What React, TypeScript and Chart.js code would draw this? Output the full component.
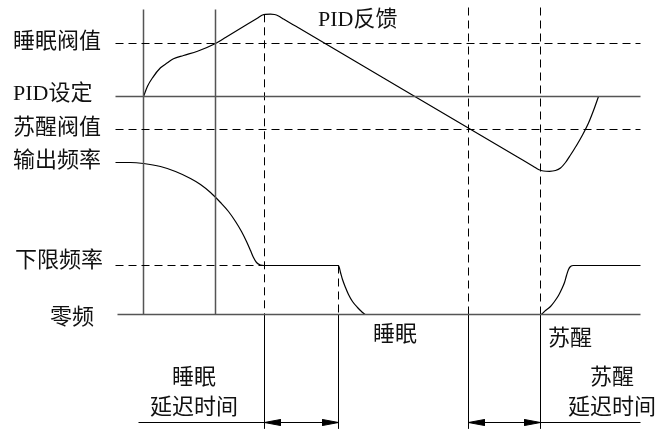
import React, { useEffect, useRef } from "react";
import { Chart, registerables } from "chart.js";

Chart.register(...registerables);

// ---- data (time on x, level on y; zero frequency = 0) ----
const levelNames = ["睡眠阀值", "PID设定", "苏醒阀值", "输出频率", "下限频率", "零频"];
const levelValues = [271, 218, 185, 152, 49, 0];

const feedbackTitle = "PID反馈";
const stateNames = ["睡眠", "苏醒"];
const delayNames = ["睡眠\n延迟时间", "苏醒\n延迟时间"];

// PID feedback curve
const feedbackX = [143, 147, 152, 160, 167, 173, 183, 197, 215, 225, 248, 258, 262, 265, 270, 274, 278, 283, 295, 520, 533, 538, 543, 549, 555, 560, 565, 570, 576, 582, 588, 593, 598];
const feedbackY = [218, 228.3, 236.7, 246.7, 251.7, 255.7, 259, 263.3, 271, 277, 291, 297, 299.5, 300.2, 300.4, 300, 298.5, 295.5, 288.4, 155.7, 148, 145, 143.5, 143.2, 144, 146.5, 152, 159.5, 169, 179.5, 191.5, 204, 218];

// output frequency curve
const outputX = [115, 130, 143, 160, 175, 190, 200, 210, 220, 228, 235, 241, 246, 250, 253, 256, 260, 264, 338, 340, 342, 345, 348, 352, 357, 361, 365, 540, 545, 550, 554, 558, 561, 564, 566, 568, 570, 573, 640];
const outputY = [152, 152, 151, 148, 143, 136, 130, 122, 112, 103, 93, 83, 73, 64, 57, 52, 49.5, 49, 49, 42, 35, 27, 20, 13, 7, 3, 0, 0, 4, 8, 13, 19, 25, 32, 39, 45, 48, 49, 49];

// event times
const markerTimes = [143, 215];
const sleepStart = 264;
const sleepEnd = 338;
const wakeStart = 468;
const wakeEnd = 540;

// diagram extents
const lineStart = 115;
const zeroStart = 117;
const lineEnd = 640;
const topLevel = 305;
const bottomLevel = -114;
const dimLevel = -108;
const delayUnderlineStarts = [138, 640];

const DASH = [8, 5];

function pts(xs: number[], ys: number[]) {
  return xs.map((x, i) => ({ x, y: ys[i] }));
}

function line(xs: number[], ys: number[], opts: any = {}) {
  return {
    data: pts(xs, ys),
    showLine: true,
    pointRadius: 0,
    borderColor: opts.color || "#000",
    borderWidth: opts.width || 1,
    borderDash: opts.dash || [],
    fill: false,
    tension: 0,
    cubicInterpolationMode: opts.smooth ? "monotone" : "default",
    clip: false,
  };
}

function arrow(tipX: number, dir: number) {
  const len = 16;
  const half = 3;
  const baseX = tipX + dir * len;
  return {
    data: pts([tipX, baseX, baseX, tipX], [dimLevel, dimLevel + half, dimLevel - half, dimLevel]),
    showLine: true,
    pointRadius: 0,
    borderColor: "#000",
    borderWidth: 1,
    backgroundColor: "#000",
    fill: "shape",
    tension: 0,
    clip: false,
  };
}

const FONT = '22px "Liberation Serif", "Noto Sans CJK SC", serif';

const textPlugin = {
  id: "diagramText",
  afterDatasetsDraw(chart: any) {
    const ctx = chart.ctx;
    const sy = chart.scales.y;
    ctx.save();
    ctx.fillStyle = "#111";
    ctx.font = FONT;
    ctx.textBaseline = "middle";
    ctx.textAlign = "left";
    const labelLeft = [13, 13, 13, 13, 15, 50];
    const labelDy = [-1.5, -2, -1, -1, -4, 4];
    levelNames.forEach((name, i) => {
      ctx.fillText(name, labelLeft[i], sy.getPixelForValue(levelValues[i]) + labelDy[i]);
    });
    ctx.fillText(feedbackTitle, 318, 20);
    ctx.fillText(stateNames[0], 373, 335);
    ctx.fillText(stateNames[1], 548, 339);
    ctx.textAlign = "center";
    const delayCx = [194, 612];
    delayNames.forEach((txt, i) => {
      const parts = txt.split("\n");
      ctx.fillText(parts[0], delayCx[i], 378);
      ctx.fillText(parts[1], delayCx[i], 408);
    });
    ctx.restore();
  },
};

export default function App() {
  const ref = useRef<HTMLCanvasElement | null>(null);

  useEffect(() => {
    document.body.style.margin = "0";
    const canvas = ref.current;
    if (!canvas) return;

    const [sleepLvl, pidLvl, wakeLvl, , lowLvl, zeroLvl] = levelValues;

    const datasets: any[] = [
      line([lineStart, lineEnd], [sleepLvl, sleepLvl], { dash: DASH }),
      line([lineStart, lineEnd], [pidLvl, pidLvl], { color: "#555", width: 1.5 }),
      line([lineStart, lineEnd], [wakeLvl, wakeLvl], { dash: DASH }),
      line([lineStart, sleepStart], [lowLvl, lowLvl], { dash: DASH }),
      line([zeroStart, lineEnd], [zeroLvl, zeroLvl], { color: "#555", width: 1.5 }),
      ...markerTimes.map((t) => line([t, t], [topLevel, zeroLvl], { color: "#555", width: 1.5 })),
      line([sleepStart, sleepStart], [feedbackY[13], zeroLvl], { dash: DASH }),
      line([sleepEnd, sleepEnd], [lowLvl, zeroLvl], { dash: DASH }),
      line([wakeStart, wakeStart], [topLevel + 2, zeroLvl], { dash: DASH }),
      line([wakeEnd, wakeEnd], [topLevel + 2, zeroLvl], { dash: DASH }),
      ...[sleepStart, sleepEnd, wakeStart, wakeEnd].map((t) => line([t, t], [zeroLvl, bottomLevel])),
      line([delayUnderlineStarts[0], sleepEnd], [dimLevel, dimLevel]),
      line([wakeStart, delayUnderlineStarts[1]], [dimLevel, dimLevel]),
      arrow(sleepStart, 1),
      arrow(sleepEnd, -1),
      arrow(wakeStart, 1),
      arrow(wakeEnd, -1),
      line(feedbackX, feedbackY, { width: 1.2, smooth: true }),
      line(outputX, outputY, { width: 1.2, smooth: true }),
    ];

    const chart = new Chart(canvas, {
      type: "scatter",
      data: { datasets },
      options: {
        animation: false,
        responsive: false,
        maintainAspectRatio: false,
        layout: { padding: 0 },
        plugins: { legend: { display: false }, tooltip: { enabled: false } },
        events: [],
        scales: {
          x: { type: "linear", min: -0.5, max: 656.5, display: false },
          y: { type: "linear", min: -114.5, max: 314.5, display: false },
        },
      },
      plugins: [textPlugin],
    });
    return () => chart.destroy();
  }, []);

  return (
    <div style={{ width: 657, height: 429, background: "#fff" }}>
      <canvas ref={ref} width={657} height={429} style={{ display: "block" }} />
    </div>
  );
}
